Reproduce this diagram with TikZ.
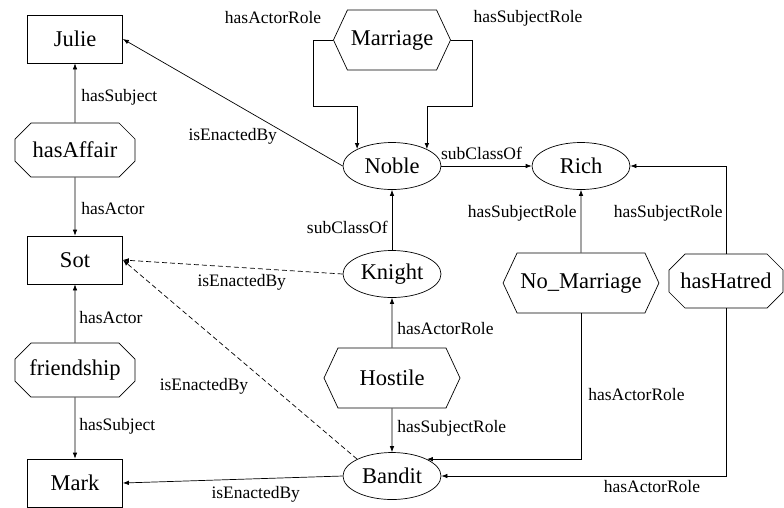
\documentclass[tikz,border=0pt]{standalone}
\usepackage{fontspec}
\setmainfont{Liberation Serif}
\usetikzlibrary{arrows.meta,positioning,shapes.geometric,shapes.misc,shapes.symbols}

\begin{document}
\begin{tikzpicture}[
  x=1pt, y=-1pt,
  >={Latex[length=6pt,width=4.5pt]},
  line width=0.7pt,
  individual/.style={
    draw,
    rectangle,
    minimum width=95pt,
    minimum height=48pt,
    font=\fontsize{22.5}{26}\selectfont
  },
  relation/.style={
    draw,
    chamfered rectangle,
    chamfered rectangle xsep=8pt,
    chamfered rectangle ysep=8pt,
    minimum width=120pt,
    minimum height=54pt,
    inner sep=2pt,
    font=\fontsize{22.5}{26}\selectfont
  },
  rolebox/.style={
    draw,
    signal,
    signal to=west and east,
    signal pointer angle=130,
    minimum height=60pt,
    font=\fontsize{22.5}{26}\selectfont
  },
  concept/.style={
    draw,
    ellipse,
    minimum width=98pt,
    minimum height=47pt,
    inner sep=0pt,
    font=\fontsize{22.5}{26}\selectfont
  },
  lab/.style={font=\fontsize{17.5}{20}\selectfont, inner sep=1pt},
  link/.style={->},
  enacted/.style={->, dash pattern=on 5pt off 3pt}
]
  \useasboundingbox (0,0) rectangle (784,507);

  % Left column: individuals and their relations
  \node[individual] (Julie) at (75,39) {Julie};
  \node[relation] (hasAffair) at (75,150) {hasAffair};
  \node[individual] (Sot) at (75,260) {Sot};
  \node[relation] (friendship) at (75,370) {friendship};
  \node[individual] (Mark) at (75,483) {Mark};

  % Middle column: roles and concepts
  \node[rolebox, minimum width=111pt] (Marriage) at (392,40) {Marriage};
  \node[concept] (Noble) at (392,166) {Noble};
  \node[concept] (Knight) at (392,274) {Knight};
  \node[rolebox, minimum width=136pt] (Hostile) at (392,378) {Hostile};
  \node[concept] (Bandit) at (392,476) {Bandit};

  % Right side
  \node[concept] (Rich) at (581,166) {Rich};
  \node[rolebox, minimum width=153pt] (NoMarriage) at (581,283) {No\_Marriage};
  \node[relation, minimum width=114pt] (hasHatred) at (726,281) {hasHatred};

  \coordinate (mL) at (313,106);
  \coordinate (mR) at (472,106);

  % Left column links
  \draw[link] (hasAffair) -- (Julie) node[lab, pos=.42, right=5pt] {hasSubject};
  \draw[link] (hasAffair) -- (Sot) node[lab, pos=.53, right=5pt] {hasActor};
  \draw[link] (friendship) -- (Sot) node[lab, pos=.43, right=3pt] {hasActor};
  \draw[link] (friendship) -- (Mark) node[lab, pos=.48, right=3pt] {hasSubject};

  % Marriage roles
  \draw[link] (Marriage.west) -| node[lab, pos=0, xshift=-60pt, yshift=22pt] {hasActorRole} (mL) -| (Noble.north west);
  \draw[link] (Marriage.east) -| node[lab, pos=0, xshift=77pt, yshift=22pt] {hasSubjectRole} (mR) -| (Noble.north east);

  % Concepts
  \draw[link] (Noble.west) -- (Julie.east) node[lab, midway, yshift=-34pt] {isEnactedBy};
  \draw[link] (Noble) -- (Rich) node[lab, midway, above=5pt, xshift=-5pt] {subClassOf};
  \draw[link] (Knight) -- (Noble) node[lab, pos=.38, left=3pt] {subClassOf};
  \draw[enacted] (Knight.west) -- (Sot.east) node[lab, midway, xshift=9pt, yshift=-15pt] {isEnactedBy};
  \draw[enacted] (Bandit.north west) -- (Sot.east) node[lab, midway, xshift=-36pt, yshift=-27pt] {isEnactedBy};
  \draw[link] (Bandit.west) -- (Mark.east) node[lab, midway, xshift=23pt, yshift=-15pt] {isEnactedBy};

  % Hostile, No_Marriage, hasHatred
  \draw[link] (Hostile) -- (Knight) node[lab, pos=.39, right=4pt] {hasActorRole};
  \draw[link] (Hostile) -- (Bandit) node[lab, pos=.45, right=4pt] {hasSubjectRole};
  \draw[link] (NoMarriage) -- (Rich) node[lab, pos=.62, left=3pt] {hasSubjectRole};
  \draw[link] (NoMarriage.south) |- (Bandit.north east) node[lab, pos=.28, right=6pt] {hasActorRole};
  \draw[link] (hasHatred.north) |- (Rich.east) node[lab, pos=.23, left=2pt] {hasSubjectRole};
  \draw[link] (hasHatred.south) |- (Bandit.east) node[lab, pos=.63, below=3pt] {hasActorRole};

\end{tikzpicture}
\end{document}
